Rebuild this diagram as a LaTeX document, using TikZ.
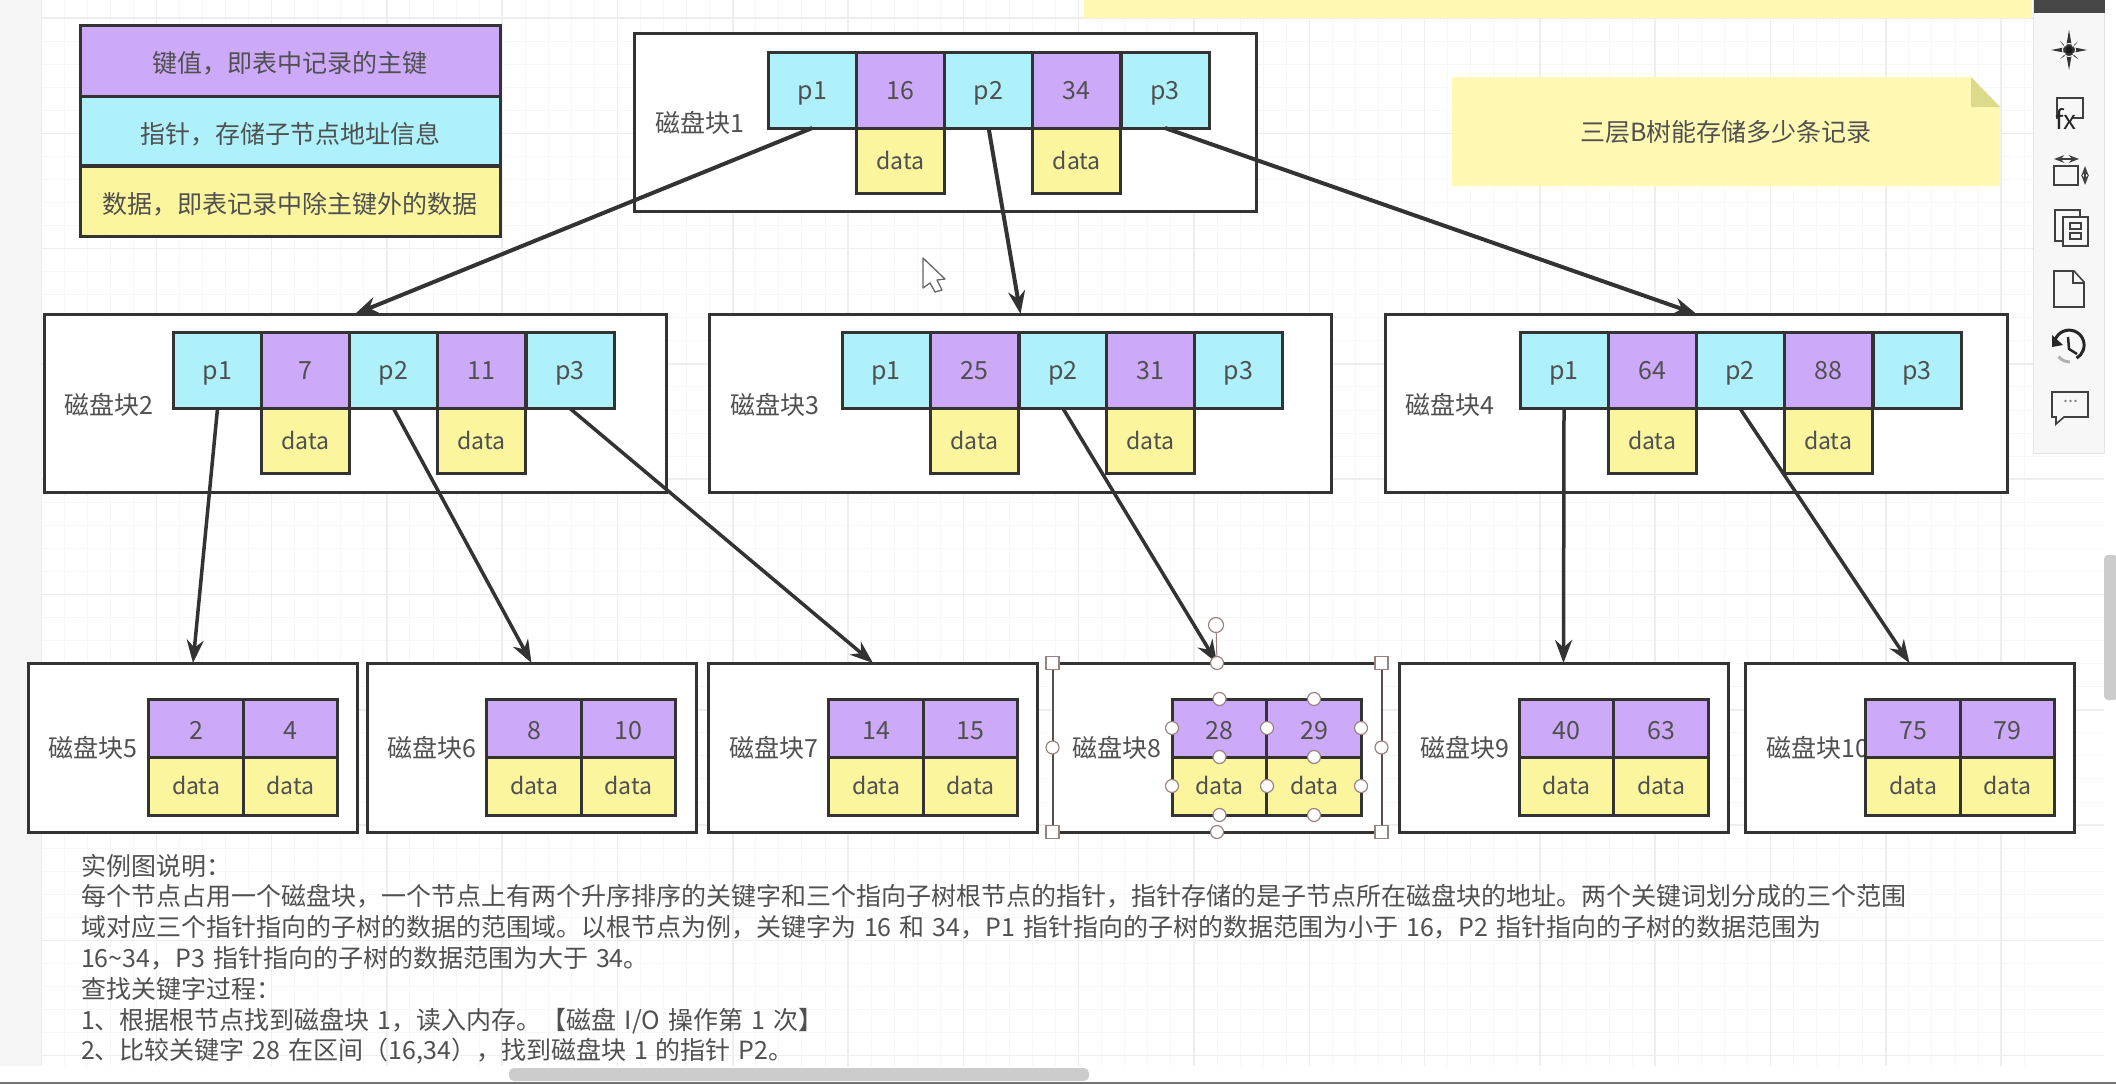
\documentclass[tikz,border=0pt]{standalone}
\usepackage{fontspec}
\setmainfont{Noto Sans CJK SC}
\usetikzlibrary{arrows.meta}
\definecolor{keycol}{HTML}{CCAAF9}
\definecolor{ptrcol}{HTML}{AEF1FA}
\definecolor{datacol}{HTML}{FBF59E}
\definecolor{notecol}{HTML}{FFF9B4}
\definecolor{foldcol}{HTML}{DCDB8C}
\definecolor{edgecol}{HTML}{333333}
\definecolor{textcol}{HTML}{505050}
\definecolor{gridmajor}{HTML}{EEEEEE}
\definecolor{gridminor}{HTML}{F7F7F7}
\definecolor{handlecol}{HTML}{9A8080}
\newcommand{\descfont}{\fontsize{25}{30.8}\selectfont\spaceskip 8pt\relax}
\tikzset{
  txt/.style={text=textcol,font=\fontsize{25}{30}\selectfont,inner sep=0pt,outer sep=0pt},
  cell/.style={txt,draw=edgecol,line width=3pt,minimum width=88pt,minimum height=76pt,text height=23pt,text depth=4.5pt},
  ptrcell/.style={cell,fill=ptrcol},
  keycell/.style={cell,fill=keycol},
  datacell/.style={cell,fill=datacol,minimum height=65pt,font=\fontsize{23}{28}\selectfont,text height=17pt,text depth=0pt},
  leafkey/.style={keycell,minimum width=94.5pt,minimum height=58pt,text height=26pt,text depth=4pt},
  leafdata/.style={datacell,minimum width=94.5pt,minimum height=58pt},
  legend/.style={cell,minimum width=420pt,minimum height=70pt,text height=28pt,text depth=4pt},
  blockbox/.style={draw=edgecol,line width=3pt,fill=white,minimum width=622pt,minimum height=178pt,outer sep=0pt},
  leafbox/.style={blockbox,minimum width=329pt,minimum height=169pt},
  blocklabel/.style={txt,anchor=west},
  ptrarrow/.style={-{Stealth[length=23pt,width=17pt]},draw=edgecol,line width=3.5pt},
  handlecirc/.style={circle,draw=handlecol,fill=white,line width=1.2pt,minimum size=13pt,inner sep=0pt},
  handlesq/.style={rectangle,draw=handlecol,fill=white,line width=1.2pt,minimum size=13pt,inner sep=0pt},
  icon/.style={draw=black!75,line width=1.6pt}
}
\begin{document}
\begin{tikzpicture}[x=1pt,y=-1pt]
  \useasboundingbox (0,0) rectangle (2116,1084);
  \fill[white] (0,0) rectangle (2116,1084);
  % grid
  \foreach \k in {0,...,86} {
    \draw[gridminor,line width=1pt] ({41+23.06*\k},0) -- ({41+23.06*\k},1066);
  }
  \foreach \k in {0,...,45} {
    \draw[gridminor,line width=1pt] (41,{18+23.06*\k}) -- (2104,{18+23.06*\k});
  }
  \foreach \k in {0,...,17} {
    \draw[gridmajor,line width=1.5pt] ({41+115.3*\k},0) -- ({41+115.3*\k},1066);
  }
  \foreach \k in {0,...,9} {
    \draw[gridmajor,line width=1.5pt] (41,{18+115.3*\k}) -- (2104,{18+115.3*\k});
  }
  \fill[black!4] (0,0) rectangle (41,1066);
  \fill[white] (0,1066) rectangle (2116,1084);
  \fill[black!55] (0,1082) rectangle (2116,1084);
  \fill[black!20,rounded corners=5pt] (509,1068) rectangle (1089,1081);
  \fill[white] (2104,0) rectangle (2116,1066);
  \fill[black!20,rounded corners=4pt] (2104,555) rectangle (2118,700);

  % toolbar
  \fill[notecol] (1084,0) rectangle (2032,18);
  \filldraw[fill=black!3,draw=black!10,line width=1pt] (2033,0) rectangle (2104,453);
  \fill[black!72] (2034,0) rectangle (2105,13);
  \fill[black!80] (2069,30) -- (2072,47) -- (2087,50) -- (2072,53) -- (2069,70) -- (2066,53) -- (2051,50) -- (2066,47) -- cycle;
  \fill[black!80] (2060,41) -- (2078,59) -- (2069,53) -- cycle;
  \fill[black!80] (2078,41) -- (2060,59) -- (2069,53) -- cycle;
  \draw[black!3,line width=1pt] (2069,50) circle (6.5pt);
  \fill[black!90] (2069,50) circle (3.5pt);
  \draw[icon] (2057,119) -- (2057,98) -- (2083,98) -- (2083,118) -- (2073,118);
  \node[text=black!85,font=\itshape\fontsize{26}{26}\selectfont,inner sep=0pt] (fxicon) at (2066,119) {fx};
  \draw[icon] (2054,166) rectangle (2078,185);
  \draw[icon,<->,>=Stealth] (2054,159) -- (2079,159);
  \draw[icon,<->,>=Stealth] (2085,166) -- (2085,185);
  \draw[icon] (2080,216) -- (2080,210) -- (2055,210) -- (2055,241) -- (2063,241);
  \draw[icon] (2063,217) rectangle (2088,246);
  \draw[icon] (2070,223) rectangle (2081,229);
  \draw[icon] (2070,233) rectangle (2081,239);
  \draw[icon] (2054,271) -- (2074,271) -- (2084,282) -- (2084,307) -- (2054,307) -- cycle;
  \draw[icon] (2073,271) -- (2073,283) -- (2084,283);
  \draw[black!85,line width=3pt] (2055,340) arc[start angle=160,end angle=-60,radius=15pt];
  \draw[black!30,line width=3pt] (2070,362) arc[start angle=270,end angle=220,radius=15pt];
  \fill[black!85] (2052,335) -- (2052,347) -- (2063,345) -- cycle;
  \draw[black!85,line width=2.5pt] (2068,337) -- (2069,349) -- (2077,354);
  \draw[icon] (2052,392) -- (2088,392) -- (2088,417) -- (2064,417) -- (2056,424) -- (2056,417) -- (2052,417) -- cycle;
  \node[text=black!50,font=\fontsize{18}{18}\selectfont,inner sep=0pt] (commentdots) at (2071,401) {...};

  % mouse pointer
  \draw[fill=white,draw=black!60,line width=1.3pt,line join=round] (923,258) -- (945,279) -- (937,280) -- (942,290) -- (935,292) -- (930,283) -- (923,288) -- cycle;

  % legend
  \node[legend,fill=keycol,minimum height=71pt] (L1) at (290,60.5) {键值，即表中记录的主键};
  \node[legend,fill=ptrcol,minimum height=69pt] (L2) at (290,131) {指针，存储子节点地址信息};
  \node[legend,fill=datacol] (L3) at (290,201) {数据，即表记录中除主键外的数据};

  % note
  \fill[notecol] (1452,77) -- (1971,77) -- (2000,107) -- (2000,186) -- (1452,186) -- cycle;
  \fill[foldcol] (1971,77) -- (2000,107) -- (1971,107) -- cycle;
  \node[txt] (note) at (1726,132) {三层B树能存储多少条记录};

  % blocks
  \node[blockbox] (B1) at (945,122.5) {};
  \node[blockbox] (B2) at (355,403) {};
  \node[blockbox] (B3) at (1020.5,403) {};
  \node[blockbox] (B4) at (1696.5,403) {};
  \node[leafbox] (B5) at (193,747.5) {};
  \node[leafbox] (B6) at (531.5,747.5) {};
  \node[leafbox] (B7) at (873,747.5) {};
  \node[leafbox] (B8) at (1217,747.5) {};
  \node[leafbox] (B9) at (1563.5,747.5) {};
  \node[leafbox] (B10) at (1909.5,747.5) {};

  \node[blocklabel] (T1) at (655,123) {磁盘块1};
  \node[blocklabel] (T2) at (64,405) {磁盘块2};
  \node[blocklabel] (T3) at (730,405) {磁盘块3};
  \node[blocklabel] (T4) at (1405,405) {磁盘块4};
  \node[blocklabel] (T5) at (48.5,748) {磁盘块5};
  \node[blocklabel] (T6) at (387,748) {磁盘块6};
  \node[blocklabel] (T7) at (729,748) {磁盘块7};
  \node[blocklabel] (T8) at (1072.5,748) {磁盘块8};
  \node[blocklabel] (T9) at (1420,748) {磁盘块9};
  \node[blocklabel] (T10) at (1766.5,748) {磁盘块10};

  % root block
  \node[ptrcell] (B1p1) at (812.3,90) {p1};
  \node[keycell] (B1k1) at (900.5,90) {16};
  \node[ptrcell] (B1p2) at (988.6,90) {p2};
  \node[keycell] (B1k2) at (1076.8,90) {34};
  \node[ptrcell] (B1p3) at (1165,90) {p3};
  \node[datacell] (B1d1) at (900.5,160.5) {data};
  \node[datacell] (B1d2) at (1076.8,160.5) {data};

  % second level
  \node[ptrcell] (B2p1) at (217.5,370.5) {p1};
  \node[keycell] (B2k1) at (305.5,370.5) {7};
  \node[ptrcell] (B2p2) at (393.5,370.5) {p2};
  \node[keycell] (B2k2) at (481.5,370.5) {11};
  \node[ptrcell] (B2p3) at (570,370.5) {p3};
  \node[datacell] (B2d1) at (305.5,441) {data};
  \node[datacell] (B2d2) at (481.5,441) {data};
  \node[ptrcell] (B3p1) at (886,370.5) {p1};
  \node[keycell] (B3k1) at (974.5,370.5) {25};
  \node[ptrcell] (B3p2) at (1063,370.5) {p2};
  \node[keycell] (B3k2) at (1150.5,370.5) {31};
  \node[ptrcell] (B3p3) at (1238.5,370.5) {p3};
  \node[datacell] (B3d1) at (974.5,441) {data};
  \node[datacell] (B3d2) at (1150.5,441) {data};
  \node[ptrcell] (B4p1) at (1564,370.5) {p1};
  \node[keycell] (B4k1) at (1652,370.5) {64};
  \node[ptrcell] (B4p2) at (1740,370.5) {p2};
  \node[keycell] (B4k2) at (1828,370.5) {88};
  \node[ptrcell] (B4p3) at (1917,370.5) {p3};
  \node[datacell] (B4d1) at (1652,441) {data};
  \node[datacell] (B4d2) at (1828,441) {data};

  % leaves
  \node[leafkey] (B5k1) at (196,728) {2};
  \node[leafkey] (B5k2) at (290.5,728) {4};
  \node[leafdata] (B5d1) at (196,786) {data};
  \node[leafdata] (B5d2) at (290.5,786) {data};
  \node[leafkey] (B6k1) at (534,728) {8};
  \node[leafkey] (B6k2) at (628.5,728) {10};
  \node[leafdata] (B6d1) at (534,786) {data};
  \node[leafdata] (B6d2) at (628.5,786) {data};
  \node[leafkey] (B7k1) at (876,728) {14};
  \node[leafkey] (B7k2) at (970.5,728) {15};
  \node[leafdata] (B7d1) at (876,786) {data};
  \node[leafdata] (B7d2) at (970.5,786) {data};
  \node[leafkey] (B8k1) at (1219.5,728) {28};
  \node[leafkey] (B8k2) at (1314,728) {29};
  \node[leafdata] (B8d1) at (1219.5,786) {data};
  \node[leafdata] (B8d2) at (1314,786) {data};
  \node[leafkey] (B9k1) at (1566.5,728) {40};
  \node[leafkey] (B9k2) at (1661,728) {63};
  \node[leafdata] (B9d1) at (1566.5,786) {data};
  \node[leafdata] (B9d2) at (1661,786) {data};
  \node[leafkey] (B10k1) at (1913,728) {75};
  \node[leafkey] (B10k2) at (2007.5,728) {79};
  \node[leafdata] (B10d1) at (1913,786) {data};
  \node[leafdata] (B10d2) at (2007.5,786) {data};

  % pointers
  \draw[ptrarrow,line width=4pt] (B1p1.south) -- (B2.north);
  \draw[ptrarrow,line width=4pt] (B1p2.south) -- (B3.north);
  \draw[ptrarrow,line width=4pt] (B1p3.south) -- (B4.north);
  \draw[ptrarrow] (B2p1.south) -- (B5.north);
  \draw[ptrarrow] (B2p2.south) -- (B6.north);
  \draw[ptrarrow] (B2p3.south) -- (B7.north);
  \draw[ptrarrow] (B3p2.south) -- (B8.north);
  \draw[ptrarrow] (B4p1.south) -- (B9.north);
  \draw[ptrarrow] (B4p2.south) -- (B10.north);

  % selection on block 8
  \draw[white,line width=3pt] (B8.north west) -- (B8.south west);
  \draw[white,line width=3pt] (B8.north east) -- (B8.south east);
  \draw[handlecol!60!black,line width=2pt] (B8.north west) -- (B8.south west);
  \draw[handlecol!60!black,line width=2pt] (B8.north east) -- (B8.south east);
  \node[handlecirc,minimum size=15pt] (rot) at (1216,625) {};
  \draw[handlecol,line width=1pt] (B8.north) -- (rot);
  \node[handlesq] (s1) at (B8.north west) {};
  \node[handlesq] (s2) at (B8.north east) {};
  \node[handlesq] (s3) at (B8.south west) {};
  \node[handlesq] (s4) at (B8.south east) {};
  \node[handlecirc] (c1) at (B8.north) {};
  \node[handlecirc] (c2) at (B8.south) {};
  \node[handlecirc] (c3) at (B8.west) {};
  \node[handlecirc] (c4) at (B8.east) {};
  \foreach \hx in {1219.5,1314} {
    \foreach \hy in {699,757,815} {
      \node[handlecirc] at (\hx,\hy) {};
    }
  }
  \foreach \hx in {1172,1267,1361} {
    \foreach \hy in {728,786} {
      \node[handlecirc] at (\hx,\hy) {};
    }
  }

  % description
  \node[txt,anchor=north west,align=left,font=\descfont] (desc) at (81,854) {实例图说明：\\
  每个节点占用一个磁盘块，一个节点上有两个升序排序的关键字和三个指向子树根节点的指针，指针存储的是子节点所在磁盘块的地址。两个关键词划分成的三个范围\\
  域对应三个指针指向的子树的数据的范围域。以根节点为例，关键字为 16 和 34，P1 指针指向的子树的数据范围为小于 16，P2 指针指向的子树的数据范围为\\
  16\textasciitilde34，P3 指针指向的子树的数据范围为大于 34。\\
  查找关键字过程：\\
  1、根据根节点找到磁盘块 1，读入内存。【磁盘 I/O 操作第 1 次】\\
  2、比较关键字 28 在区间（16,34），找到磁盘块 1 的指针 P2。};
\end{tikzpicture}
\end{document}
